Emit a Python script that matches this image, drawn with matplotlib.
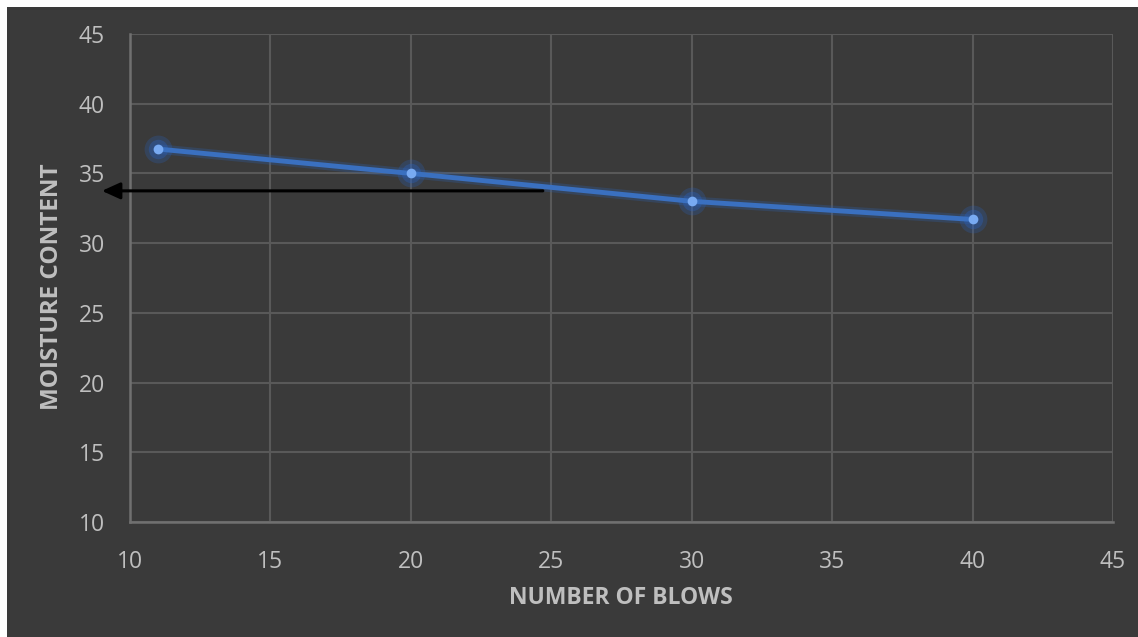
import matplotlib.pyplot as plt
from matplotlib.patches import Rectangle

blows = [11, 20, 30, 40]
moisture = [36.75, 35.0, 33.0, 31.7]
arrow_y = 33.75
arrow_from_x = 24.7
arrow_to_x = 9.0
xticks = [10, 15, 20, 25, 30, 35, 40, 45]
yticks = [10, 15, 20, 25, 30, 35, 40, 45]

bg = '#3a3a3a'
txt = '#bfbfbf'
grid = '#595959'

plt.rcParams['font.family'] = ['Open Sans', 'DejaVu Sans']

fig = plt.figure(figsize=(11.38, 6.37), dpi=100, facecolor='white')
fig.patches.append(Rectangle((7 / 1138, 0), 1, 1 - 7 / 637, transform=fig.transFigure,
                             facecolor=bg, edgecolor='none', zorder=-10))
ax = fig.add_axes([130 / 1138, 1 - 522 / 637, 983 / 1138, 488 / 637])
ax.set_facecolor(bg)

ax.set_xlim(10, 45)
ax.set_ylim(10, 45)
ax.set_xticks(xticks)
ax.set_yticks(yticks)
ax.grid(True, color=grid, linewidth=1.5)
ax.set_axisbelow(True)
for s in ['top', 'right']:
    ax.spines[s].set_visible(False)
for s in ['left', 'bottom']:
    ax.spines[s].set_color('#707070')
    ax.spines[s].set_linewidth(1.8)
ax.tick_params(length=0, colors=txt, labelsize=16.5)
ax.tick_params(axis='x', pad=20)
ax.tick_params(axis='y', pad=18)

# glow
ax.plot(blows, moisture, color='#2f5fa8', linewidth=7, alpha=0.3, solid_capstyle='round')
ax.plot(blows, moisture, 'o', color='#2a62c0', markersize=20, alpha=0.25, markeredgewidth=0)
ax.plot(blows, moisture, 'o', color='#2a62c0', markersize=14, alpha=0.35, markeredgewidth=0)
ax.plot(blows, moisture, color='#3a70c0', linewidth=3.5, solid_capstyle='round')
ax.plot(blows, moisture, 'o', color='#78aaf2', markersize=7, markeredgewidth=0)

ax.annotate('', xy=(arrow_to_x, arrow_y), xytext=(arrow_from_x, arrow_y),
            annotation_clip=False,
            arrowprops=dict(arrowstyle='-|>,head_length=1.1,head_width=0.5',
                            color='black', lw=2.2, shrinkA=0, shrinkB=0))

fig.text(621 / 1138, 1 - 598 / 637, 'NUMBER OF BLOWS', color=txt, fontsize=16.5,
         fontweight='bold', ha='center', va='center')
fig.text(52 / 1138, 1 - 287 / 637, 'MOISTURE CONTENT', color=txt, fontsize=17.5,
         fontweight='bold', ha='center', va='center', rotation=90)

fig.savefig('out.png', dpi=100, facecolor='white')
